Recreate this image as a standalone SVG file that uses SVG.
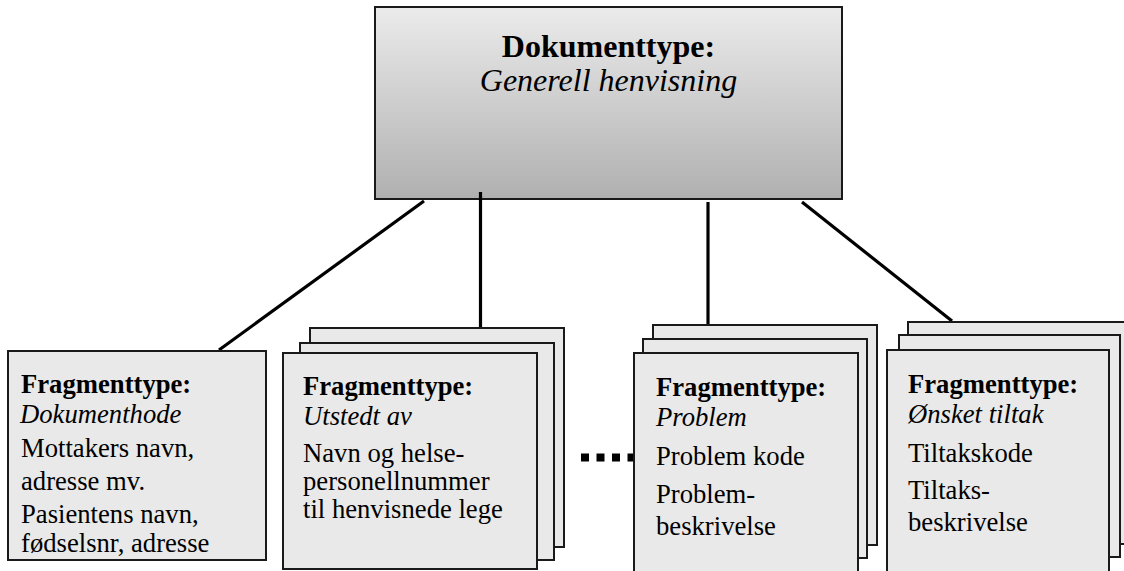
<svg xmlns="http://www.w3.org/2000/svg" width="1124" height="571" viewBox="0 0 1124 571">
<defs>
<linearGradient id="topgrad" x1="0" y1="0" x2="0" y2="1">
<stop offset="0" stop-color="#ebebeb"/>
<stop offset="1" stop-color="#b0b0b0"/>
</linearGradient>
<style>
.box{fill:#e9e9e9;stroke:#1a1a1a;stroke-width:2}
.top{fill:url(#topgrad);stroke:#1a1a1a;stroke-width:2}
.conn{stroke:#000;stroke-width:3.2;fill:none}
.dots{stroke:#000;stroke-width:8;stroke-dasharray:8 7.5;fill:none}
text{font-family:"Liberation Serif","Times New Roman",serif;fill:#000}
.h{font-size:32px}
.t{font-size:26.67px}
.b{font-weight:bold}
.i{font-style:italic}
</style>
</defs>
<rect width="1124" height="571" fill="#fff"/>
<g id="doc">
<rect class="top" x="375" y="7" width="467" height="192"/>
<text class="h b" x="608.5" y="57" text-anchor="middle">Dokumenttype:</text>
<text class="h i" x="608.5" y="91" text-anchor="middle">Generell henvisning</text>
</g>
<g id="connectors">
<line class="conn" x1="424" y1="201" x2="219" y2="350"/>
<line class="conn" x1="480.5" y1="192" x2="480.5" y2="328"/>
<line class="conn" x1="708" y1="202" x2="708" y2="325"/>
<line class="conn" x1="802" y1="202" x2="952" y2="321"/>
<line class="dots" x1="581" y1="457.5" x2="634" y2="457.5"/>
</g>
<g id="frag-dokumenthode">
<rect class="box" x="8" y="351" width="258" height="209"/>
<text class="t b" x="21" y="393">Fragmenttype:</text>
<text class="t i" x="20" y="423">Dokumenthode</text>
<text class="t" x="21" y="457">Mottakers navn,</text>
<text class="t" x="21" y="490">adresse mv.</text>
<text class="t" x="21" y="523">Pasientens navn,</text>
<text class="t" x="21" y="552">fødselsnr, adresse</text>
</g>
<g id="frag-utstedt">
<rect class="box" x="310" y="328" width="254" height="219"/>
<rect class="box" x="300" y="343" width="254" height="217"/>
<rect class="box" x="283" y="353" width="254" height="216"/>
<text class="t b" x="303" y="395">Fragmenttype:</text>
<text class="t i" x="303" y="425">Utstedt av</text>
<text class="t" x="303" y="462">Navn og helse-</text>
<text class="t" x="303" y="490">personellnummer</text>
<text class="t" x="303" y="518">til henvisnede lege</text>
</g>
<g id="frag-problem">
<rect class="box" x="653" y="325" width="224" height="220"/>
<rect class="box" x="643" y="339" width="224" height="219"/>
<rect class="box" x="634" y="353" width="224" height="225"/>
<text class="t b" x="656" y="396">Fragmenttype:</text>
<text class="t i" x="656" y="426">Problem</text>
<text class="t" x="656" y="465">Problem kode</text>
<text class="t" x="656" y="503">Problem-</text>
<text class="t" x="656" y="535">beskrivelse</text>
</g>
<g id="frag-tiltak">
<rect class="box" x="908" y="322" width="225" height="222"/>
<rect class="box" x="899" y="335" width="221" height="222"/>
<rect class="box" x="887" y="350" width="222" height="228"/>
<text class="t b" x="908" y="393">Fragmenttype:</text>
<text class="t i" x="908" y="423">Ønsket tiltak</text>
<text class="t" x="908" y="462">Tiltakskode</text>
<text class="t" x="908" y="499">Tiltaks-</text>
<text class="t" x="908" y="531">beskrivelse</text>
</g>
</svg>
